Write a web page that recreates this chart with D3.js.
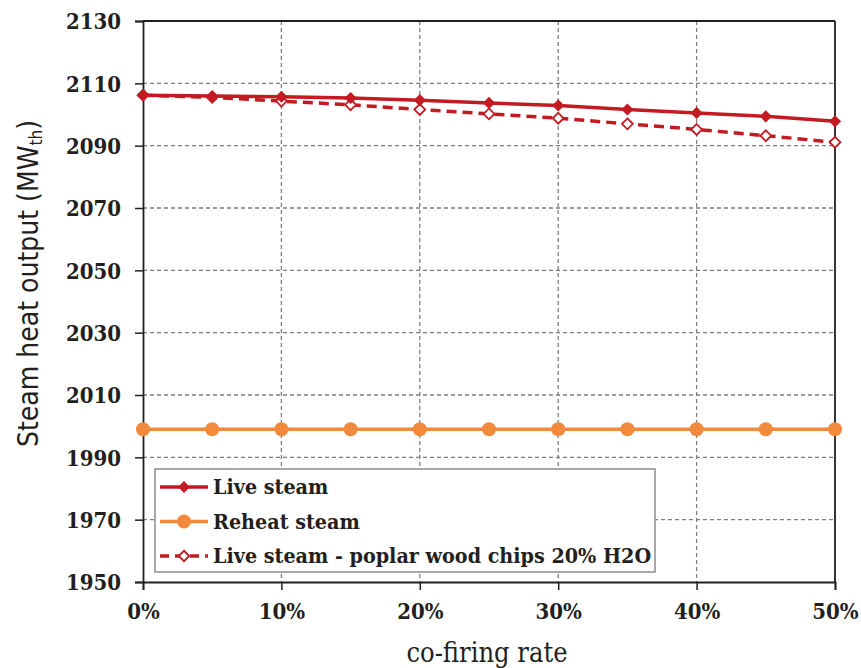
<!DOCTYPE html>
<html>
<head>
<meta charset="utf-8">
<script src="https://cdn.jsdelivr.net/npm/d3@7"></script>
<style>
  body { margin: 0; background: #fff; }
  .tick-label { font-family: "DejaVu Serif Condensed", "DejaVu Serif", serif; font-weight: bold; fill: #231f20; }
</style>
</head>
<body>
<div class="chart"></div>
<script>
// ---- data ----
var rates = [0, 5, 10, 15, 20, 25, 30, 35, 40, 45, 50];
var liveSteam = [2106.2, 2105.9, 2105.7, 2105.3, 2104.6, 2103.7, 2102.9, 2101.6, 2100.5, 2099.4, 2097.8];
var reheatSteam = [1999, 1999, 1999, 1999, 1999, 1999, 1999, 1999, 1999, 1999, 1999];
var livePoplar = [2106.2, 2105.5, 2104.3, 2103.1, 2101.6, 2100.2, 2098.8, 2097.0, 2095.2, 2093.2, 2091.1];
var xTicks = [0, 10, 20, 30, 40, 50];
var yTicks = [1950, 1970, 1990, 2010, 2030, 2050, 2070, 2090, 2110, 2130];
var seriesNames = ["Live steam", "Reheat steam", "Live steam - poplar wood chips 20% H2O"];

var svgWidth = 861;
var svgHeight = 668;
var margin = { top: 21, right: 26, bottom: 86, left: 143 };
var width = svgWidth - margin.left - margin.right;
var height = svgHeight - margin.top - margin.bottom;

var red = "#c41a22";
var orange = "#f28a3e";
var axisColor = "#231f20";

var svg = d3.select(".chart").append("svg")
    .attr("width", svgWidth)
    .attr("height", svgHeight);

var chartGroup = svg.append("g")
    .attr("transform", `translate(${margin.left}, ${margin.top})`);

var xScale = d3.scaleLinear().domain([0, 50]).range([0, width]);
var yScale = d3.scaleLinear().domain([1950, 2130]).range([height, 0]);

// gridlines
chartGroup.append("g")
    .selectAll("line")
    .data(yTicks.slice(1, -1))
    .enter().append("line")
    .attr("x1", 0).attr("x2", width)
    .attr("y1", d => yScale(d)).attr("y2", d => yScale(d))
    .attr("stroke", "#7f7f7f").attr("stroke-width", 1.3)
    .attr("stroke-dasharray", "4,3");

chartGroup.append("g")
    .selectAll("line")
    .data(xTicks.slice(1, -1))
    .enter().append("line")
    .attr("y1", 0).attr("y2", height)
    .attr("x1", d => xScale(d)).attr("x2", d => xScale(d))
    .attr("stroke", "#7f7f7f").attr("stroke-width", 1.3)
    .attr("stroke-dasharray", "4,3");

// frame (top and right)
chartGroup.append("line")
    .attr("x1", 0).attr("x2", width).attr("y1", 0).attr("y2", 0)
    .attr("stroke", axisColor).attr("stroke-width", 1.8);
chartGroup.append("line")
    .attr("x1", width).attr("x2", width).attr("y1", 0).attr("y2", height)
    .attr("stroke", axisColor).attr("stroke-width", 1.8);

// axes
var bottomAxis = d3.axisBottom(xScale)
    .tickValues(xTicks)
    .tickSize(8)
    .tickPadding(10)
    .tickFormat(d => d + "%");
var leftAxis = d3.axisLeft(yScale)
    .tickValues(yTicks)
    .tickSize(8)
    .tickPadding(14)
    .tickFormat(d3.format("d"));

var xAxis = chartGroup.append("g")
    .attr("transform", `translate(0, ${height})`)
    .call(bottomAxis);
var yAxis = chartGroup.append("g")
    .call(leftAxis);

[xAxis, yAxis].forEach(function (ax) {
    ax.select(".domain").attr("stroke", axisColor).attr("stroke-width", 1.8);
    ax.selectAll(".tick line").attr("stroke", axisColor).attr("stroke-width", 1.5);
    ax.selectAll(".tick text")
        .attr("class", "tick-label")
        .style("font-size", "22px");
});
xAxis.selectAll(".tick text").attr("dy", "0.85em");
yAxis.selectAll(".tick text").attr("dy", "0.35em");

// axis titles
svg.append("text")
    .attr("x", margin.left + width / 2 - 2)
    .attr("y", 662)
    .attr("text-anchor", "middle")
    .style("font-family", "'DejaVu Serif Condensed', 'DejaVu Serif', serif")
    .style("font-size", "27px")
    .style("fill", axisColor)
    .text("co-firing rate");

var yTitle = svg.append("text")
    .attr("transform", `translate(38, ${margin.top + height / 2 - 18}) rotate(-90)`)
    .attr("text-anchor", "middle")
    .style("font-family", "'DejaVu Sans Condensed', 'Noto Sans', sans-serif")
    .style("font-size", "28px")
    .style("fill", axisColor);
yTitle.append("tspan").text("Steam heat output (MW");
yTitle.append("tspan").attr("baseline-shift", "-25%").style("font-size", "17px").text("th");
yTitle.append("tspan").text(")");

// lines
var line = d3.line()
    .x((d, i) => xScale(rates[i]))
    .y(d => yScale(d));

chartGroup.append("path")
    .datum(reheatSteam)
    .attr("d", line)
    .attr("fill", "none").attr("stroke", orange).attr("stroke-width", 3.5);

chartGroup.append("path")
    .datum(livePoplar)
    .attr("d", line)
    .attr("fill", "none").attr("stroke", red).attr("stroke-width", 3.5)
    .attr("stroke-dasharray", "10,6");

chartGroup.append("path")
    .datum(liveSteam)
    .attr("d", line)
    .attr("fill", "none").attr("stroke", red).attr("stroke-width", 3.5);

// markers
var diamond = d3.symbol().type(d3.symbolDiamond2);

chartGroup.append("g")
    .selectAll("circle")
    .data(reheatSteam)
    .enter().append("circle")
    .attr("cx", (d, i) => xScale(rates[i]))
    .attr("cy", d => yScale(d))
    .attr("r", 7)
    .attr("fill", orange);

chartGroup.append("g")
    .selectAll("path")
    .data(livePoplar)
    .enter().append("path")
    .attr("d", diamond.size(75))
    .attr("transform", (d, i) => `translate(${xScale(rates[i])}, ${yScale(d)})`)
    .attr("fill", "#fff").attr("stroke", red).attr("stroke-width", 1.8);

chartGroup.append("g")
    .selectAll("path")
    .data(liveSteam)
    .enter().append("path")
    .attr("d", diamond.size(95))
    .attr("transform", (d, i) => `translate(${xScale(rates[i])}, ${yScale(d)})`)
    .attr("fill", red);

// legend
var legend = svg.append("g").attr("transform", "translate(155, 469)");
legend.append("rect")
    .attr("width", 500).attr("height", 103)
    .attr("fill", "#fff").attr("stroke", "#8c8c8c").attr("stroke-width", 1.5);

var legendRows = legend.selectAll(".row")
    .data(seriesNames)
    .enter().append("g")
    .attr("transform", (d, i) => `translate(0, ${18 + i * 34.5})`);

legendRows.append("line")
    .attr("x1", 5).attr("x2", 53)
    .attr("stroke", (d, i) => i === 1 ? orange : red)
    .attr("stroke-width", 3.5)
    .attr("stroke-dasharray", (d, i) => i === 2 ? "9,6" : null);

legendRows.each(function (d, i) {
    var g = d3.select(this);
    if (i === 0) {
        g.append("path").attr("d", diamond.size(90)).attr("transform", "translate(29,0)").attr("fill", red);
    } else if (i === 1) {
        g.append("circle").attr("cx", 29).attr("r", 7).attr("fill", orange);
    } else {
        g.append("path").attr("d", diamond.size(70)).attr("transform", "translate(29,0)")
            .attr("fill", "#fff").attr("stroke", red).attr("stroke-width", 1.8);
    }
});

legendRows.append("text")
    .attr("x", 58)
    .attr("dy", "0.35em")
    .attr("class", "tick-label")
    .style("font-size", "21.3px")
    .text(d => d);
</script>
</body>
</html>
